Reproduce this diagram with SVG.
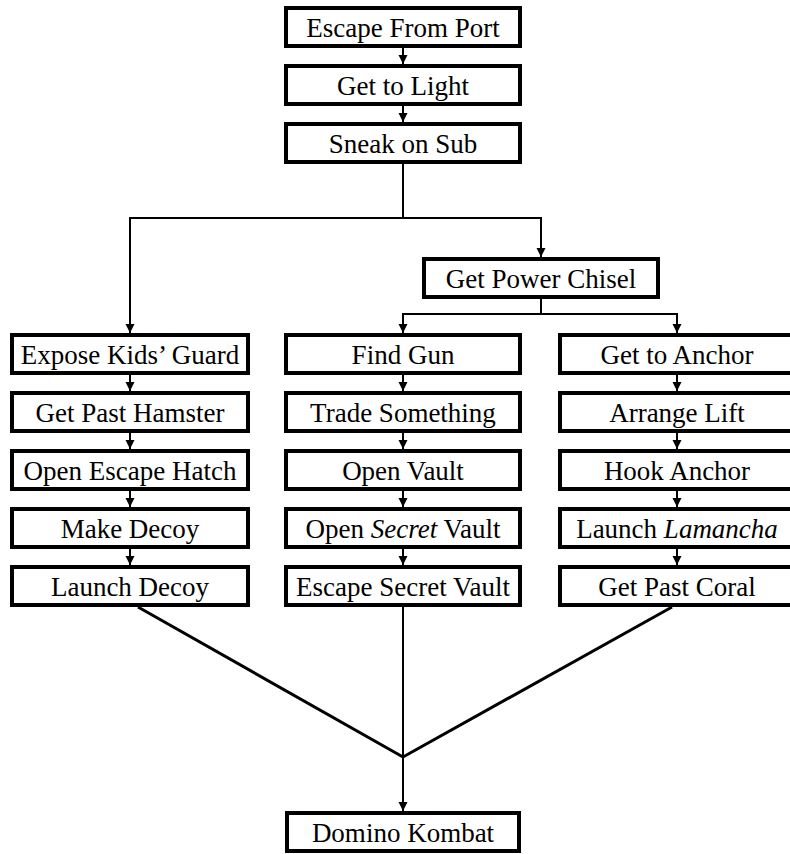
<svg xmlns="http://www.w3.org/2000/svg" width="790" height="854" viewBox="0 0 790 854">
<style>
.box rect{fill:#fff;stroke:#000;stroke-width:4}
.box text{font-family:"Liberation Serif","Times New Roman",serif;font-size:27px;fill:#000;text-anchor:middle}
.c line,.c polyline{stroke:#000;stroke-width:2;fill:none}
.c .d{stroke-width:3}
</style>
<defs>
<marker id="ah" markerUnits="userSpaceOnUse" markerWidth="10" markerHeight="10" refX="9" refY="4.5" orient="auto">
<path d="M0,0 L9,4.5 L0,9 z" fill="#000"/>
</marker>
</defs>
<rect width="790" height="854" fill="#fff"/>
<g class="c" id="connectors">
<line x1="403" y1="48" x2="403" y2="64" marker-end="url(#ah)"/>
<line x1="403" y1="106" x2="403" y2="122" marker-end="url(#ah)"/>
<line x1="403" y1="164" x2="403" y2="218"/>
<line x1="129" y1="218" x2="542" y2="218"/>
<line x1="130" y1="218" x2="130" y2="333" marker-end="url(#ah)"/>
<line x1="541" y1="218" x2="541" y2="257" marker-end="url(#ah)"/>
<line x1="541" y1="299" x2="541" y2="314"/>
<line x1="402" y1="314" x2="678" y2="314"/>
<line x1="403" y1="314" x2="403" y2="333" marker-end="url(#ah)"/>
<line x1="677" y1="314" x2="677" y2="333" marker-end="url(#ah)"/>
<line x1="130" y1="375" x2="130" y2="391" marker-end="url(#ah)"/>
<line x1="130" y1="433" x2="130" y2="449" marker-end="url(#ah)"/>
<line x1="130" y1="491" x2="130" y2="507" marker-end="url(#ah)"/>
<line x1="130" y1="549" x2="130" y2="565" marker-end="url(#ah)"/>
<line x1="403" y1="375" x2="403" y2="391" marker-end="url(#ah)"/>
<line x1="403" y1="433" x2="403" y2="449" marker-end="url(#ah)"/>
<line x1="403" y1="491" x2="403" y2="507" marker-end="url(#ah)"/>
<line x1="403" y1="549" x2="403" y2="565" marker-end="url(#ah)"/>
<line x1="677" y1="375" x2="677" y2="391" marker-end="url(#ah)"/>
<line x1="677" y1="433" x2="677" y2="449" marker-end="url(#ah)"/>
<line x1="677" y1="491" x2="677" y2="507" marker-end="url(#ah)"/>
<line x1="677" y1="549" x2="677" y2="565" marker-end="url(#ah)"/>
<line class="d" x1="138" y1="607" x2="403" y2="757"/>
<line class="d" x1="672" y1="607" x2="403" y2="757"/>
<line x1="403" y1="607" x2="403" y2="811" marker-end="url(#ah)"/>
</g>
<g class="box" id="escape-from-port"><rect x="286" y="8" width="234" height="38"/><text x="403" y="37">Escape From Port</text></g>
<g class="box" id="get-to-light"><rect x="286" y="66" width="234" height="38"/><text x="403" y="95">Get to Light</text></g>
<g class="box" id="sneak-on-sub"><rect x="286" y="124" width="234" height="38"/><text x="403" y="153">Sneak on Sub</text></g>
<g class="box" id="get-power-chisel"><rect x="424" y="259" width="234" height="38"/><text x="541" y="288">Get Power Chisel</text></g>
<g class="box" id="expose-kids-guard"><rect x="12" y="335" width="236" height="38"/><text x="130" y="364">Expose Kids’ Guard</text></g>
<g class="box" id="get-past-hamster"><rect x="12" y="393" width="236" height="38"/><text x="130" y="422">Get Past Hamster</text></g>
<g class="box" id="open-escape-hatch"><rect x="12" y="451" width="236" height="38"/><text x="130" y="480">Open Escape Hatch</text></g>
<g class="box" id="make-decoy"><rect x="12" y="509" width="236" height="38"/><text x="130" y="538">Make Decoy</text></g>
<g class="box" id="launch-decoy"><rect x="12" y="567" width="236" height="38"/><text x="130" y="596">Launch Decoy</text></g>
<g class="box" id="find-gun"><rect x="286" y="335" width="234" height="38"/><text x="403" y="364">Find Gun</text></g>
<g class="box" id="trade-something"><rect x="286" y="393" width="234" height="38"/><text x="403" y="422">Trade Something</text></g>
<g class="box" id="open-vault"><rect x="286" y="451" width="234" height="38"/><text x="403" y="480">Open Vault</text></g>
<g class="box" id="open-secret-vault"><rect x="286" y="509" width="234" height="38"/><text x="403" y="538">Open <tspan font-style="italic">Secret</tspan> Vault</text></g>
<g class="box" id="escape-secret-vault"><rect x="286" y="567" width="234" height="38"/><text x="403" y="596">Escape Secret Vault</text></g>
<g class="box" id="get-to-anchor"><rect x="560" y="335" width="236" height="38"/><text x="677" y="364">Get to Anchor</text></g>
<g class="box" id="arrange-lift"><rect x="560" y="393" width="236" height="38"/><text x="677" y="422">Arrange Lift</text></g>
<g class="box" id="hook-anchor"><rect x="560" y="451" width="236" height="38"/><text x="677" y="480">Hook Anchor</text></g>
<g class="box" id="launch-lamancha"><rect x="560" y="509" width="236" height="38"/><text x="677" y="538">Launch <tspan font-style="italic">Lamancha</tspan></text></g>
<g class="box" id="get-past-coral"><rect x="560" y="567" width="236" height="38"/><text x="677" y="596">Get Past Coral</text></g>
<g class="box" id="domino-kombat"><rect x="287" y="813" width="232" height="38"/><text x="403" y="842">Domino Kombat</text></g>
</svg>
